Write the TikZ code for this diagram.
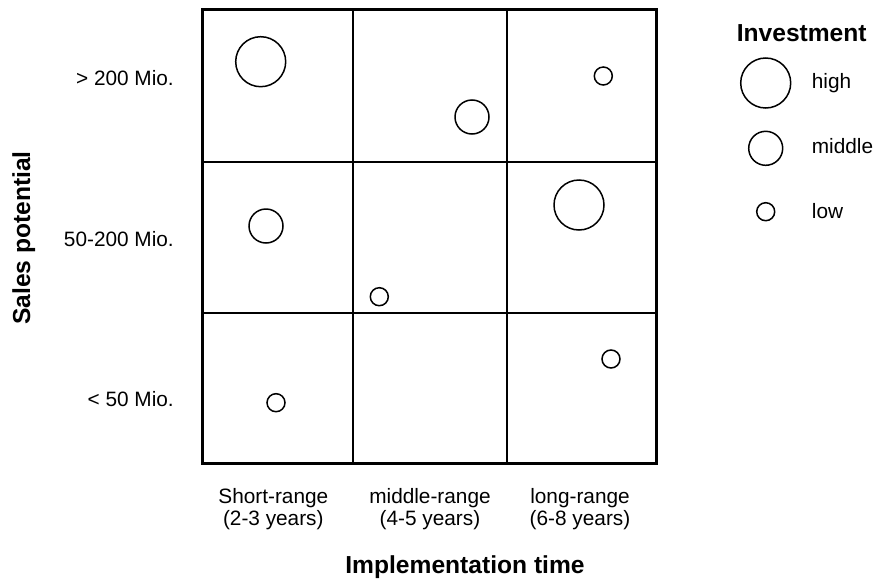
\documentclass[tikz,border=0pt]{standalone}
\usepackage{fontspec}
\setmainfont{Liberation Sans}
\begin{document}
\begin{tikzpicture}[x=1pt,y=-1pt,
  lbl/.style={inner sep=0pt, font=\fontsize{20.8}{22}\selectfont},
  ttl/.style={inner sep=0pt, font=\fontsize{24.6}{26}\selectfont\bfseries},
  big/.style={circle, draw, line width=1.5pt, inner sep=0pt, minimum size=50pt},
  mid/.style={circle, draw, line width=1.5pt, inner sep=0pt, minimum size=34pt},
  sml/.style={circle, draw, line width=1.5pt, inner sep=0pt, minimum size=18pt},
  gridline/.style={line width=1.6pt}]
\useasboundingbox (0,0) rectangle (875,581);
% grid
\draw[gridline] (353,9) -- (353,463);
\draw[gridline] (507,9) -- (507,463);
\draw[gridline] (202,162) -- (656,162);
\draw[gridline] (202,313) -- (656,313);
\draw[line width=3pt] (202,9) rectangle (656,463);
% bubbles
\node[big] (c11) at (260.7,61.7) {};
\node[mid] (c12) at (472,117) {};
\node[sml] (c13) at (603.3,76) {};
\node[mid] (c21) at (266,226) {};
\node[sml] (c22) at (379.3,296.7) {};
\node[big] (c23) at (579,205) {};
\node[sml] (c31) at (276,402.7) {};
\node[sml] (c33) at (611,359) {};
% row labels
\node[lbl, anchor=base east] (r1) at (174,85) {> 200 Mio.};
\node[lbl, anchor=base east] (r2) at (174,246.7) {50-200 Mio.};
\node[lbl, anchor=base east] (r3) at (174,406) {< 50 Mio.};
\node[ttl, anchor=base, rotate=90] (ylab) at (30,238) {Sales potential};
% column labels
\node[lbl, anchor=base, align=center] (k1) at (273.3,525) {Short-range\\(2-3 years)};
\node[lbl, anchor=base, align=center] (k2) at (430,525) {middle-range\\(4-5 years)};
\node[lbl, anchor=base, align=center] (k3) at (580,525) {long-range\\(6-8 years)};
\node[ttl, anchor=base] (xlab) at (465,573) {Implementation time};
% legend
\node[ttl, anchor=base] (leg) at (801.7,41.5) {Investment};
\node[big] (lh) at (765.7,83) {};
\node[mid] (lm) at (765.7,148.3) {};
\node[sml] (ll) at (765.7,211.7) {};
\node[lbl, anchor=base west] (th) at (811.7,88.5) {high};
\node[lbl, anchor=base west] (tm) at (811.7,153.5) {middle};
\node[lbl, anchor=base west] (tl) at (811.7,218.5) {low};
\end{tikzpicture}
\end{document}
